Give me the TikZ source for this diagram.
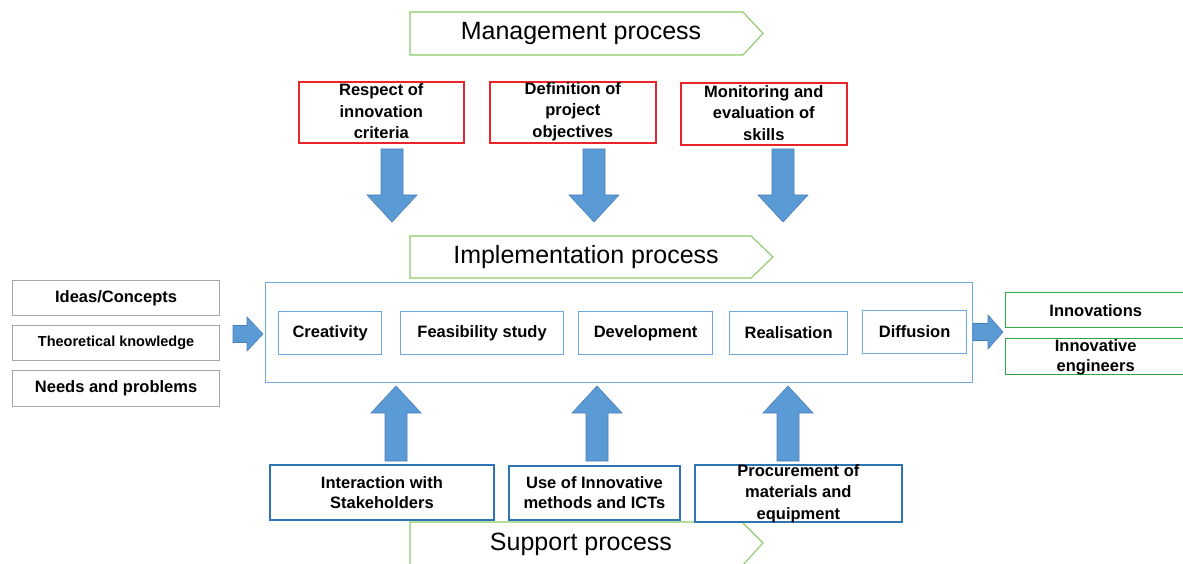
\documentclass[tikz,border=0pt]{standalone}
\usepackage{fontspec}
\setmainfont{Liberation Sans}
\usetikzlibrary{positioning}
\definecolor{redbox}{HTML}{E8262A}
\definecolor{bluebox}{HTML}{2E75B6}
\definecolor{lightblue}{HTML}{6FA8DC}
\definecolor{arrowfill}{HTML}{5B9BD5}
\definecolor{arrowline}{HTML}{4A7EBB}
\definecolor{procgreen}{HTML}{8CCB68}
\definecolor{outgreen}{HTML}{2EAA45}
\definecolor{graybox}{HTML}{A6A6A6}
\tikzset{
  boxbase/.style={rectangle, anchor=north west, inner sep=0pt, align=center, font=\bfseries\fontsize{16.5}{20}\selectfont},
  redb/.style={boxbase, draw=redbox, line width=1.6pt},
  blueb/.style={boxbase, draw=bluebox, line width=1.8pt},
  stepbox/.style={boxbase, draw=lightblue, line width=1.2pt},
  grayb/.style={boxbase, draw=graybox, line width=1.2pt},
  greenb/.style={boxbase, draw=outgreen, line width=1.4pt},
  txt/.style={inner sep=0pt, align=center, font=\bfseries\fontsize{16.5}{20}\selectfont},
  redtxt/.style={inner sep=0pt, align=center, font=\bfseries\fontsize{16.5}{21.5}\selectfont},
  proc/.style={draw=procgreen, line width=1.1pt, fill=white},
  proctxt/.style={inner sep=0pt, font=\fontsize{25}{30}\selectfont},
  blockarrow/.style={fill=arrowfill, draw=arrowline, line width=0.6pt},
}
% vertical block arrow: x, y of shaft end, y of head base, y of tip
\newcommand{\varrow}[4]{%
  \fill[blockarrow] (#1-11,#2) -- (#1+11,#2) -- (#1+11,#3) -- (#1+25,#3) -- (#1,#4) -- (#1-25,#3) -- (#1-11,#3) -- cycle;}
\newcommand{\harrow}[4]{%
  \fill[blockarrow] (#2,#1-8.5) -- (#3,#1-8.5) -- (#3,#1-17) -- (#4,#1) -- (#3,#1+17) -- (#3,#1+8.5) -- (#2,#1+8.5) -- cycle;}
\begin{document}
\begin{tikzpicture}[x=1pt,y=-1pt]
\useasboundingbox (0,0) rectangle (1183,564);
\fill[white] (0,0) rectangle (1183,564);

% process banners
\draw[proc] (410,12) -- (743,12) -- (763,33.5) -- (743,55) -- (410,55) -- cycle;
\node[proctxt] (mgmt) at (581,33.5) {Management process};
\draw[proc] (410,236) -- (751,236) -- (773,257) -- (751,278) -- (410,278) -- cycle;
\node[proctxt] (impl) at (586,257) {Implementation process};
\draw[proc] (410,522) -- (742,522) -- (763,543) -- (742,566) -- (410,566) -- cycle;
\node[proctxt] (supp) at (581,544) {Support process};

% management boxes
\node[redb, minimum width=165pt, minimum height=61pt] (r1) at (298,81) {};
\node[redtxt] at ([yshift=1pt]r1.center) {Respect of\\innovation\\criteria};
\node[redb, minimum width=166pt, minimum height=61pt] (r2) at (489,81) {};
\node[redtxt] at ([yshift=1pt]r2.center) {Definition of\\project\\objectives};
\node[redb, minimum width=166pt, minimum height=62pt] (r3) at (680,82) {};
\node[redtxt] at ([yshift=1pt]r3.center) {Monitoring and\\evaluation of\\skills};

% down arrows
\varrow{392}{149}{195}{222}
\varrow{594}{149}{195}{222}
\varrow{783}{149}{195}{222}

% implementation frame
\node[draw=lightblue, line width=1pt, anchor=north west, minimum width=707pt, minimum height=100pt, inner sep=0pt] (frame) at (265,282) {};
\node[stepbox, minimum width=103pt, minimum height=43pt] (s1) at (278,311) {Creativity};
\node[stepbox, minimum width=163pt, minimum height=43pt] (s2) at (400,311) {Feasibility study};
\node[stepbox, minimum width=134pt, minimum height=43pt] (s3) at (578,311) {Development};
\node[stepbox, minimum width=118pt, minimum height=43pt] (s4) at (729,311) {Realisation};
\node[stepbox, minimum width=104pt, minimum height=43pt] (s5) at (862,310) {Diffusion};

% inputs
\node[grayb, minimum width=207pt, minimum height=35pt] (i1) at (12,280) {Ideas/Concepts};
\node[grayb, minimum width=207pt, minimum height=35pt, font=\bfseries\fontsize{14.5}{17}\selectfont] (i2) at (12,325) {Theoretical knowledge};
\node[grayb, minimum width=207pt, minimum height=36pt] (i3) at (12,370) {Needs and problems};
\harrow{334}{233}{247}{263}

% outputs
\harrow{332}{973}{988}{1003}
\node[greenb, minimum width=180pt, minimum height=35pt] (o1) at (1005,292) {Innovations};
\node[greenb, minimum width=180pt, minimum height=36pt] (o2) at (1005,338) {};
\node[txt] at ([yshift=-1pt]o2.center) {Innovative\\engineers};

% up arrows
\varrow{396}{461}{413}{386}
\varrow{597}{461}{413}{386}
\varrow{788}{461}{413}{386}

% support boxes
\node[blueb, minimum width=224pt, minimum height=55pt] (b1) at (269,464) {Interaction with\\Stakeholders};
\node[blueb, minimum width=171pt, minimum height=54pt] (b2) at (508,465) {Use of Innovative\\methods and ICTs};
\node[blueb, minimum width=207pt, minimum height=57pt] (b3) at (694,464) {};
\node[txt, font=\bfseries\fontsize{16.5}{21.5}\selectfont] at ([yshift=0pt]b3.center) {Procurement of\\materials and\\equipment};
\end{tikzpicture}
\end{document}
